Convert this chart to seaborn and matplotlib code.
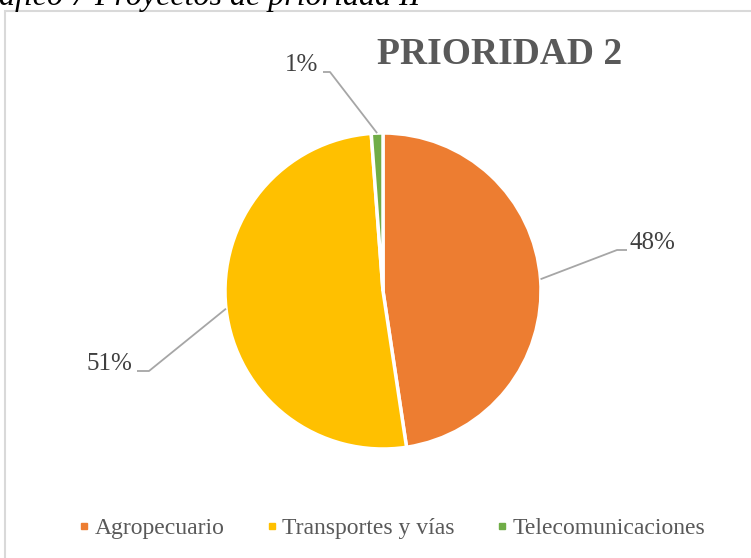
import numpy as np
import matplotlib
matplotlib.use('Agg')
import matplotlib.pyplot as plt
import seaborn as sns
from matplotlib.lines import Line2D
from matplotlib.patches import Rectangle

# data
categories = ['Agropecuario', 'Transportes y vías', 'Telecomunicaciones']
counts     = [40, 43, 1]
colors     = ['#ED7D31', '#FFC000', '#70AD47']

sns.set_theme(style='white')
plt.rcParams['font.family'] = ['Liberation Serif', 'DejaVu Serif']
SERIF = ['Liberation Serif', 'DejaVu Serif']

W, H = 751, 558
fig = plt.figure(figsize=(W / 100, H / 100), dpi=100)
ax = fig.add_axes([0, 0, 1, 1])

# chart frame (cropped at right / bottom like the source)
ax.add_patch(Rectangle((4.5, -5), W + 10, H - 10.5 + 5, fill=False,
                       edgecolor='#D9D9D9', linewidth=1.5))

# caption from the document, cut at the top
ax.text(-1, H - 5, 'áfico 7 Proyectos de prioridad II', fontsize=23,
        style='italic', color='black', va='baseline', ha='left', family=SERIF)

cx, cy, r = 383, H - 291, 158
wedges, _ = ax.pie(counts, colors=colors, startangle=90, counterclock=False,
                   center=(cx, cy), radius=r, frame=True,
                   wedgeprops=dict(edgecolor='white', linewidth=2.5))
ax.set_xlim(0, W)
ax.set_ylim(0, H)
ax.set_aspect('equal')
ax.axis('off')

ax.text(500, H - 54, 'PRIORIDAD 2', fontsize=27, fontweight='bold',
        color='#595959', ha='center', va='center', family=SERIF)

# data labels with leader lines (elbow and label positions are layout)
total = sum(counts)
label_layout = [
    # elbow x, elbow y, end x, text x, ha
    (617, H - 250, 627, 630, 'left'),
    (149, H - 371, 137, 132, 'right'),
    (330, H - 72, 323, 318, 'right'),
]
for w, c, (ex, ey, hx, tx, ha) in zip(wedges, counts, label_layout):
    ang = np.deg2rad((w.theta1 + w.theta2) / 2)
    px, py = cx + r * np.cos(ang), cy + r * np.sin(ang)
    ax.plot([px, ex, hx], [py, ey, ey], color='#A6A6A6', lw=1.3,
            solid_capstyle='butt')
    ax.text(tx, ey + 1, f'{c / total * 100:.0f}%', fontsize=18,
            color='#404040', ha=ha, va='baseline', family=SERIF)

handles = [Line2D([0], [0], marker='s', linestyle='', markersize=5,
                  markerfacecolor=col, markeredgecolor=col) for col in colors]
fig.legend(handles, categories, loc='center', bbox_to_anchor=(390 / W, 1 - 528 / H),
           ncol=3, frameon=False, handletextpad=0.05,
           columnspacing=1.6, labelcolor='#595959', handlelength=0.8,
           prop={'family': SERIF, 'size': 17})

fig.savefig('out.png', dpi=100)
